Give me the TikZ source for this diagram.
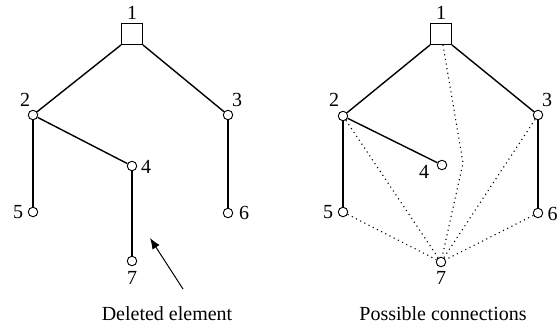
\documentclass[tikz,border=0pt]{standalone}
\usepackage{fontspec}
\setmainfont{Liberation Serif}
\usetikzlibrary{arrows.meta}
\begin{document}
\begin{tikzpicture}[x=1pt,y=-1pt,
  vtx/.style={circle,draw,fill=white,line width=0.9pt,inner sep=0pt,minimum size=9.5pt},
  root/.style={rectangle,draw,fill=white,line width=0.9pt,inner sep=0pt,minimum size=21pt},
  lbl/.style={inner sep=0pt,font=\fontsize{20}{22}\selectfont},
  edge/.style={line width=1.4pt},
  poss/.style={line width=1.1pt,dash pattern=on 1.1pt off 3.6pt},
  pointer/.style={line width=1pt,-{Latex[length=11pt,width=8.5pt]}}]
\useasboundingbox (0,0) rectangle (558,326);
% ---- left panel ----
\node[root] (a1) at (132,34) {};
\node[vtx] (a2) at (33,115) {};
\node[vtx] (a3) at (228,115) {};
\node[vtx] (a4) at (132,166) {};
\node[vtx] (a5) at (33,212) {};
\node[vtx] (a6) at (228,213) {};
\node[vtx] (a7) at (132,261) {};
\node[lbl] (la1) at (132,13) {1};
\node[lbl] (la2) at (25,100) {2};
\node[lbl] (la3) at (237,100) {3};
\node[lbl] (la4) at (146,167) {4};
\node[lbl] (la5) at (18,212) {5};
\node[lbl] (la6) at (244,213) {6};
\node[lbl] (la7) at (132,278) {7};
\draw[edge] (a1.south west) -- (a2);
\draw[edge] (a1.south east) -- (a3);
\draw[edge] (a2) -- (a4);
\draw[edge] (a2) -- (a5);
\draw[edge] (a4) -- (a7);
\draw[edge] (a3) -- (a6);
\coordinate (tail) at (183,289);
\coordinate (tip) at (150,238);
\draw[pointer] (tail) -- (tip);
\node[lbl] (cap1) at (167,314) {Deleted element};
% ---- right panel ----
\node[root] (b1) at (441,34) {};
\node[vtx] (b2) at (343,116) {};
\node[vtx] (b3) at (538,115) {};
\node[vtx] (b4) at (442,165) {};
\node[vtx] (b5) at (343,212) {};
\node[vtx] (b6) at (538,213) {};
\node[vtx] (b7) at (441,262) {};
\node[lbl] (lb1) at (441,13) {1};
\node[lbl] (lb2) at (334,100) {2};
\node[lbl] (lb3) at (547,100) {3};
\node[lbl] (lb4) at (424,172) {4};
\node[lbl] (lb5) at (328,212) {5};
\node[lbl] (lb6) at (552.5,214) {6};
\node[lbl] (lb7) at (441,278) {7};
\coordinate (bend) at (463,163);
\draw[edge] (b1.south west) -- (b2);
\draw[edge] (b1.south east) -- (b3);
\draw[edge] (b2) -- (b4);
\draw[edge] (b2) -- (b5);
\draw[edge] (b3) -- (b6);
\draw[poss] ([xshift=2pt]b1.south) -- (bend) -- (b7);
\draw[poss] (b2) -- (b7);
\draw[poss] (b3) -- (b7);
\draw[poss] (b5) -- (b7);
\draw[poss] (b6) -- (b7);
\node[lbl] (cap2) at (443,314) {Possible connections};
\end{tikzpicture}
\end{document}
